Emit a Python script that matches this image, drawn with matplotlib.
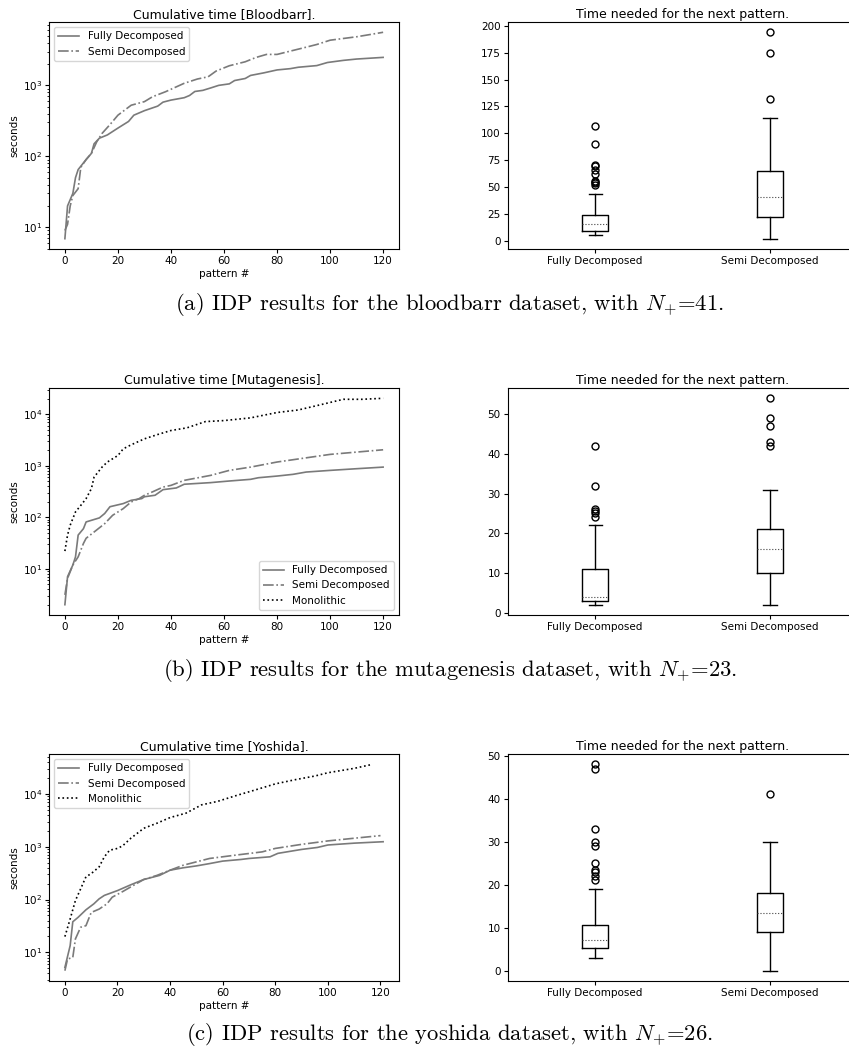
import numpy as np
import matplotlib
matplotlib.use('Agg')
import matplotlib.pyplot as plt

plt.rcParams['mathtext.fontset'] = 'cm'

# ---- cumulative time data ----
# bloodbarr
bb_full_x = [0, 1, 3, 4, 5, 8, 10, 11, 13, 16, 20, 24, 26, 30, 35, 37, 40, 45, 47, 49, 52, 55, 58, 62, 64, 68, 70, 75, 80, 85, 88, 95, 99, 105, 110, 120]
bb_full_y = [6.9, 20, 30, 50, 65, 90, 110, 150, 180, 200, 250, 310, 380, 440, 510, 580, 620, 670, 720, 820, 850, 920, 1000, 1050, 1170, 1250, 1380, 1500, 1650, 1720, 1800, 1900, 2100, 2250, 2350, 2480]
bb_semi_x = [0, 1, 2, 3, 5, 6, 8, 10, 12, 14, 17, 20, 25, 30, 33, 38, 45, 50, 54, 57, 62, 68, 72, 76, 80, 85, 90, 95, 100, 105, 110, 115, 120]
bb_semi_y = [9, 11, 20, 28, 35, 70, 90, 110, 160, 210, 280, 380, 525, 590, 690, 815, 1070, 1230, 1320, 1590, 1890, 2150, 2470, 2730, 2730, 3040, 3380, 3770, 4330, 4580, 4840, 5200, 5600]

# mutagenesis
mu_full_x = [0, 1, 3, 4, 5, 7, 8, 13, 15, 17, 22, 25, 29, 30, 34, 37, 42, 45, 55, 62, 70, 73, 80, 86, 91, 100, 110, 120]
mu_full_y = [2.0, 7, 11.8, 17, 45, 60, 81, 97, 118, 160, 184, 213, 230, 250, 267, 343, 370, 437, 470, 505, 544, 585, 630, 680, 754, 812, 875, 940]
mu_semi_x = [0, 1, 3, 5, 7, 8, 10, 15, 18, 22, 25, 28, 30, 33, 37, 40, 45, 55, 62, 70, 80, 90, 100, 110, 120]
mu_semi_y = [3.1, 6.5, 11.8, 17, 31, 39, 47, 75, 109, 147, 198, 230, 267, 310, 385, 415, 520, 650, 812, 940, 1180, 1400, 1660, 1840, 2040]
mu_mono_x = [0, 1, 2, 4, 6, 8, 10, 11, 14, 16, 20, 22, 25, 30, 35, 40, 46, 53, 60, 70, 80, 88, 95, 105, 112, 120]
mu_mono_y = [22, 45, 70, 127, 170, 230, 360, 600, 940, 1180, 1580, 2130, 2550, 3330, 4040, 4830, 5440, 7200, 7530, 8500, 10800, 12100, 14700, 19500, 19500, 20400]

# yoshida
yo_full_x = [0, 2, 3, 5, 8, 11, 13, 15, 20, 25, 30, 36, 40, 45, 50, 55, 60, 67, 70, 78, 81, 90, 96, 100, 110, 121]
yo_full_y = [5.2, 13.4, 38, 46, 64, 83, 103, 120, 148, 190, 240, 287, 360, 400, 434, 480, 535, 575, 600, 645, 750, 890, 970, 1080, 1170, 1245]
yo_semi_x = [0, 1, 3, 4, 6, 8, 10, 13, 16, 18, 22, 26, 30, 35, 40, 45, 55, 65, 75, 80, 90, 100, 110, 120]
yo_semi_y = [4.5, 7.5, 8, 18, 30, 32, 57, 66, 83, 111, 142, 185, 240, 287, 360, 447, 600, 695, 800, 930, 1110, 1290, 1450, 1625]
yo_mono_x = [0, 2, 4, 6, 8, 10, 13, 15, 17, 20, 22, 25, 30, 35, 40, 46, 52, 58, 65, 72, 80, 88, 95, 100, 110, 117]
yo_mono_y = [19.9, 43, 96, 160, 270, 310, 415, 645, 860, 930, 1045, 1440, 2240, 2790, 3570, 4320, 6220, 7220, 9270, 11750, 15500, 18800, 21800, 25200, 30500, 36400]

# ---- box plot summaries: [low whisker, q1, median, q3, high whisker], fliers ----
box_labels = ['Fully Decomposed', 'Semi Decomposed']
bb_box = [[5, 9.3, 16, 24, 44], [2, 22, 41, 65, 114]]
bb_fliers = [[52, 54, 55, 56, 62, 66, 70, 71, 90, 107], [132, 175, 194]]
mu_box = [[2, 3, 4, 11, 22], [2, 10, 16, 21, 31]]
mu_fliers = [[24, 25, 25.5, 26, 32, 42], [42, 43, 47, 49, 54]]
yo_box = [[3, 5.3, 7.1, 10.7, 19], [0, 9, 13.5, 18, 30]]
yo_fliers = [[21, 22, 23, 23.5, 25, 29, 30, 33, 47, 48], [41]]

captions = [r'(a) IDP results for the bloodbarr dataset, with $N_{+}$=41.',
            r'(b) IDP results for the mutagenesis dataset, with $N_{+}$=23.',
            r'(c) IDP results for the yoshida dataset, with $N_{+}$=26.']
titles = ['Cumulative time [Bloodbarr].', 'Cumulative time [Mutagenesis].', 'Cumulative time [Yoshida].']

fig = plt.figure(figsize=(8.49, 10.56), dpi=100)

row_y = [0.7642, 0.4176, 0.0710]
cap_y = [1 - 305/1056, 1 - 670/1056, 1 - 1035/1056]

tfs = 9     # title size
kfs = 7.5   # tick size
gray = '#7a7a7a'

curves = [
    [(bb_full_x, bb_full_y), (bb_semi_x, bb_semi_y), None],
    [(mu_full_x, mu_full_y), (mu_semi_x, mu_semi_y), (mu_mono_x, mu_mono_y)],
    [(yo_full_x, yo_full_y), (yo_semi_x, yo_semi_y), (yo_mono_x, yo_mono_y)],
]
boxes = [(bb_box, bb_fliers), (mu_box, mu_fliers), (yo_box, yo_fliers)]
legend_loc = ['upper left', 'lower right', 'upper left']

for i in range(3):
    ax = fig.add_axes([0.0577, row_y[i], 0.4123, 0.215])
    full, semi, mono = curves[i]
    ax.plot(full[0], full[1], color=gray, ls='-', lw=1.2, label='Fully Decomposed')
    ax.plot(semi[0], semi[1], color=gray, ls='-.', lw=1.2, label='Semi Decomposed')
    if mono is not None:
        ax.plot(mono[0], mono[1], color='black', ls=':', lw=1.2, label='Monolithic')
    ax.set_yscale('log')
    ax.set_title(titles[i], fontsize=tfs, pad=3)
    ax.set_xlabel('pattern #', fontsize=kfs, labelpad=2)
    ax.set_ylabel('seconds', fontsize=kfs, labelpad=2)
    ax.set_xticks([0, 20, 40, 60, 80, 100, 120])
    ax.tick_params(labelsize=kfs, length=3, pad=2)
    ax.tick_params(which='minor', length=1.5)
    ax.legend(loc=legend_loc[i], fontsize=kfs)

    # box plot
    bx = fig.add_axes([0.598, row_y[i], 0.412, 0.215])
    stats = []
    for s, fl, lab in zip(boxes[i][0], boxes[i][1], box_labels):
        stats.append(dict(whislo=s[0], q1=s[1], med=s[2], q3=s[3], whishi=s[4], fliers=fl, label=lab))
    bx.bxp(stats, medianprops=dict(color='#444444', ls=':', lw=0.8),
           boxprops=dict(color='black', lw=1),
           whiskerprops=dict(color='black', lw=1),
           capprops=dict(color='black', lw=1),
           flierprops=dict(marker='o', markerfacecolor='none', markeredgecolor='black', markersize=5))
    bx.set_title('Time needed for the next pattern.', fontsize=tfs, pad=3)
    bx.tick_params(labelsize=kfs, length=3, pad=2)

    fig.text(0.530, cap_y[i], captions[i], ha='center', va='center', fontsize=16.3, family='cmr10')

fig.savefig('out.png', dpi=100, facecolor='white')
